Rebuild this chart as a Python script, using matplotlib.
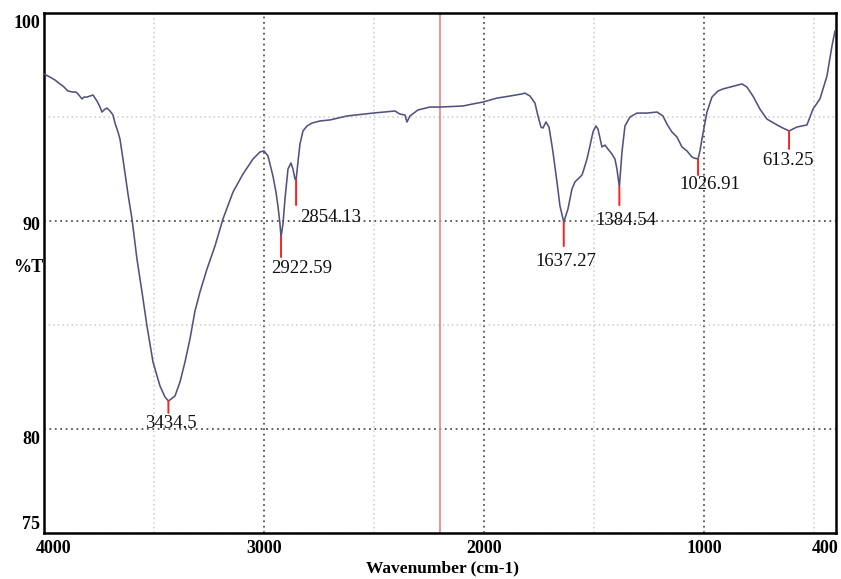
import matplotlib
matplotlib.use("Agg")
import matplotlib.pyplot as plt
from matplotlib.ticker import MultipleLocator
import numpy as np

# FTIR transmission spectrum, read as (wavenumber cm-1, %T)
wavenumber = [
    4000, 3972.7, 3950, 3927.3, 3913.6, 3890.9, 3868.2, 3854.5, 3845.5, 3827.3,
    3818.2, 3804.5, 3790.9, 3777.3, 3759.1, 3745.5, 3736.4, 3722.7, 3713.6, 3700,
    3686.4, 3677.3, 3663.6, 3654.5, 3640.9, 3618.2, 3600, 3577.3, 3554.5, 3531.8,
    3504.5, 3472.7, 3450, 3434.5, 3427.3, 3404.5, 3381.8, 3359.1, 3336.4, 3313.6,
    3290.9, 3259.1, 3222.7, 3186.4, 3140.9, 3095.5, 3050, 3018.2, 3000, 2981.8,
    2959.1, 2945.5, 2936.4, 2927.3, 2922.59, 2913.6, 2904.5, 2890.9, 2877.3, 2868.2,
    2859.1, 2854.13, 2845.5, 2836.4, 2822.7, 2804.5, 2781.8, 2745.5, 2700, 2622.7,
    2504.5, 2404.5, 2381.8, 2359.1, 2350, 2336.4, 2300, 2245.5, 2200, 2095.5,
    2050, 2004.5, 1940.9, 1881.8, 1827.3, 1813.6, 1790.9, 1768.2, 1754.5, 1740.9,
    1731.8, 1718.2, 1704.5, 1695.5, 1686.4, 1668.2, 1654.5, 1637.27, 1618.2, 1600,
    1586.4, 1572.7, 1554.5, 1545.5, 1531.8, 1518.2, 1504.5, 1490.9, 1481.8, 1463.6,
    1450, 1436.4, 1418.2, 1404.5, 1395.5, 1384.54, 1372.7, 1359.1, 1336.4, 1304.5,
    1259.1, 1213.6, 1186.4, 1168.2, 1145.5, 1122.7, 1100, 1077.3, 1054.5, 1045.5,
    1026.91, 1018.2, 1009.1, 986.4, 963.6, 936.4, 913.6, 881.8, 827.3, 804.5,
    777.3, 745.5, 713.6, 668.2, 640.9, 613.25, 577.3, 531.8, 504.5, 472.7,
    440.9, 418.2, 404.5,
]
transmittance = [
    97.07, 96.92, 96.78, 96.59, 96.49, 96.25, 96.20, 96.20, 96.11, 95.87,
    95.96, 95.96, 96.01, 96.06, 95.77, 95.48, 95.24, 95.38, 95.43, 95.29,
    95.10, 94.71, 94.28, 93.94, 92.98, 91.30, 90.10, 88.17, 86.59, 84.95,
    83.22, 82.07, 81.54, 81.35, 81.40, 81.59, 82.26, 83.22, 84.33, 85.67,
    86.59, 87.69, 88.80, 90.10, 91.39, 92.26, 92.98, 93.32, 93.37, 93.13,
    92.16, 91.39, 90.72, 89.86, 89.23, 89.86, 91.06, 92.50, 92.79, 92.50,
    92.02, 91.97, 92.84, 93.70, 94.33, 94.57, 94.71, 94.81, 94.86, 95.05,
    95.19, 95.29, 95.14, 95.10, 94.76, 95.05, 95.34, 95.48, 95.48, 95.53,
    95.63, 95.72, 95.91, 96.01, 96.11, 96.15, 96.01, 95.67, 95.05, 94.52,
    94.47, 94.76, 94.52, 93.94, 93.32, 91.88, 90.72, 89.95, 90.58, 91.54,
    91.88, 92.02, 92.21, 92.50, 92.98, 93.61, 94.28, 94.57, 94.42, 93.56,
    93.65, 93.46, 93.22, 92.98, 92.50, 91.63, 93.32, 94.57, 95.00, 95.19,
    95.19, 95.24, 95.05, 94.66, 94.28, 94.04, 93.56, 93.37, 93.08, 93.03,
    92.98, 93.37, 93.94, 95.24, 95.96, 96.25, 96.35, 96.44, 96.59, 96.44,
    96.01, 95.38, 94.90, 94.62, 94.47, 94.33, 94.52, 94.62, 95.38, 95.87,
    96.97, 98.41, 99.13,
]

peaks = [3434.5, 2922.59, 2854.13, 1637.27, 1384.54, 1026.91, 613.25]
cursor_wn = 2200

x_ticks = [4000, 3000, 2000, 1000, 400]
y_ticks = [100, 90, 80, 75]

# label placement around each peak marker (pixels): text dx, dy and marker length
peak_layout = [(2, -23, 12), (21, -31, 20), (35, -37, 25), (2, -39, 24),
               (7, -33, 18), (12, -25, 16), (-1, -30, 18)]

serif = "Liberation Serif"

fig = plt.figure(figsize=(8.41, 5.79), dpi=100)
ax = fig.add_axes([0.0523, 0.0794, 0.9417, 0.8981])

ax.plot(wavenumber, transmittance, color="#52527f", lw=1.15, zorder=3)
ax.axvline(cursor_wn, color="#e8808c", lw=1.2, zorder=2)

ax.set_xlim(4000, 400)
ax.set_ylim(75, 100)

ax.xaxis.set_major_locator(MultipleLocator(1000))
ax.xaxis.set_minor_locator(MultipleLocator(500))
ax.yaxis.set_major_locator(MultipleLocator(10))
ax.yaxis.set_minor_locator(MultipleLocator(5))
ax.grid(which="major", color="#555555", linestyle=(0, (1, 2)), lw=1.3)
ax.grid(which="minor", color="#cccccc", linestyle=(0, (1, 2)), lw=1.1)
ax.tick_params(which="both", length=0, labelbottom=False, labelleft=False)
for s in ax.spines.values():
    s.set_linewidth(1.8)

# tick labels drawn as text so the end labels can sit inside the frame
x_shift = {4000: 10, 400: -11}
for v in x_ticks:
    ax.annotate(str(v), xy=(v, 0), xycoords=("data", "axes fraction"),
                xytext=(x_shift.get(v, 0), -15), textcoords="offset pixels",
                ha="center", va="center", fontsize=13, fontweight="bold",
                family=serif)
y_shift = {100: -10, 90: -4, 80: -10, 75: 9}
for v in y_ticks:
    ax.annotate(str(v), xy=(0, v), xycoords=("axes fraction", "data"),
                xytext=(-4, y_shift[v]), textcoords="offset pixels",
                ha="right", va="center", fontsize=13, fontweight="bold",
                family=serif)

fig.text(28 / 841, 1 - 267 / 579, "%T", ha="center", va="center",
         fontsize=13, fontweight="bold", family=serif)
fig.text(443 / 841, 1 - 568 / 579, "Wavenumber (cm-1)", ha="center",
         va="center", fontsize=12.5, fontweight="bold", family=serif)

# peak markers and labels
wn_arr = np.array(wavenumber)
t_arr = np.array(transmittance)
for p, (dx, dy, ln) in zip(peaks, peak_layout):
    t = t_arr[np.argmin(np.abs(wn_arr - p))]
    ax.annotate("", xy=(p, t), xytext=(0, -ln), textcoords="offset pixels",
                arrowprops=dict(arrowstyle="-", color="#ff2020", lw=1.4,
                                shrinkA=0, shrinkB=0), zorder=4)
    ax.annotate(str(p), xy=(p, t), xytext=(dx, dy), textcoords="offset pixels",
                ha="center", va="center", fontsize=13.5, family=serif,
                color="#111111", zorder=5)

fig.savefig("out.png", dpi=100)
